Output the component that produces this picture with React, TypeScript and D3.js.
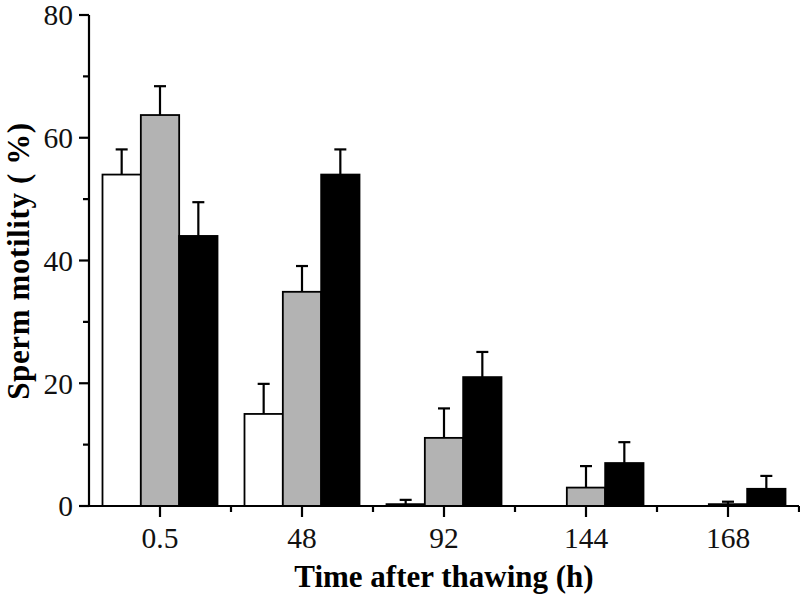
import React from "react";
import * as d3 from "d3";

const categories = ["0.5", "48", "92", "144", "168"];
const seriesNames = ["A", "B", "C"];
const seriesColors = ["#ffffff", "#b3b3b3", "#000000"];
const valuesA = [54.0, 15.0, 0.3, 0, 0];
const errorsA = [4.1, 4.9, 0.7, 0, 0];
const valuesB = [63.7, 34.9, 11.1, 3.0, 0.3];
const errorsB = [4.7, 4.2, 4.8, 3.5, 0.4];
const valuesC = [44.0, 54.0, 21.0, 7.0, 2.8];
const errorsC = [5.5, 4.1, 4.1, 3.4, 2.1];
const yTicks = [0, 20, 40, 60, 80];
const yMinorTicks = [10, 30, 50, 70];

const W = 800;
const H = 596;
const left = 89;
const right = 799;
const top = 15;
const bottom = 506;

export default function App() {
  const x = d3.scaleBand<string>().domain(categories).range([left, right]).paddingInner(0).paddingOuter(0);
  const inner = d3.scaleBand<string>().domain(seriesNames).range([0, 115]);
  const y = d3.scaleLinear().domain([0, 80]).range([bottom, top]);
  const groupOffset = (x.bandwidth() - 115) / 2;
  const all = [
    { name: "A", v: valuesA, e: errorsA },
    { name: "B", v: valuesB, e: errorsB },
    { name: "C", v: valuesC, e: errorsC },
  ];
  const boundaries = categories.map((c) => x(c)!).concat([right]).slice(1);
  const font = "'Liberation Serif', 'Times New Roman', serif";
  return (
    <svg width={W} height={H} style={{ position: "absolute", left: 0, top: 0 }}>
      <rect width={W} height={H} fill="#fff" />
      {all.map((s, si) =>
        categories.map((c, i) => {
          const bx = x(c)! + groupOffset + inner(s.name)!;
          const bw = inner.bandwidth();
          const v = s.v[i];
          if (v <= 0) return null;
          const cx = bx + bw / 2;
          return (
            <g key={s.name + c}>
              <rect x={bx} y={y(v)} width={bw} height={y(0) - y(v)} fill={seriesColors[si]} stroke="#000" strokeWidth={1.8} />
              {s.e[i] > 0 && (
                <g stroke="#000" strokeWidth={2.2}>
                  <line x1={cx} x2={cx} y1={y(v)} y2={y(v + s.e[i])} />
                  <line x1={cx - 6} x2={cx + 6} y1={y(v + s.e[i])} y2={y(v + s.e[i])} />
                </g>
              )}
            </g>
          );
        })
      )}
      <g stroke="#000" strokeWidth={2.2}>
        <line x1={left} x2={left} y1={top} y2={bottom} />
        <line x1={left} x2={right} y1={bottom} y2={bottom} />
        {yTicks.map((t) => (
          <line key={t} x1={left - 10} x2={left} y1={y(t)} y2={y(t)} />
        ))}
        {yMinorTicks.map((t) => (
          <line key={t} x1={left - 6} x2={left} y1={y(t)} y2={y(t)} />
        ))}
        {categories.map((c) => (
          <line key={c} x1={x(c)! + x.bandwidth() / 2} x2={x(c)! + x.bandwidth() / 2} y1={bottom} y2={bottom + 11} />
        ))}
        {boundaries.map((b, i) => (
          <line key={i} x1={b} x2={b} y1={bottom} y2={bottom + 6} />
        ))}
      </g>
      <g fontFamily={font} fontSize={29.5} fill="#111">
        {yTicks.map((t) => (
          <text key={t} x={left - 16} y={y(t)} dy="0.35em" textAnchor="end">
            {t}
          </text>
        ))}
        {categories.map((c) => (
          <text key={c} x={x(c)! + x.bandwidth() / 2} y={548} textAnchor="middle">
            {c}
          </text>
        ))}
      </g>
      <text x={444} y={587} textAnchor="middle" fontFamily={font} fontWeight="bold" fontSize={31} fill="#000">
        Time after thawing (h)
      </text>
      <text transform={`translate(29, 261) rotate(-90)`} textAnchor="middle" fontFamily={font} fontWeight="bold" fontSize={31} letterSpacing={0.6} fill="#000">
        Sperm motility ( %)
      </text>
    </svg>
  );
}
